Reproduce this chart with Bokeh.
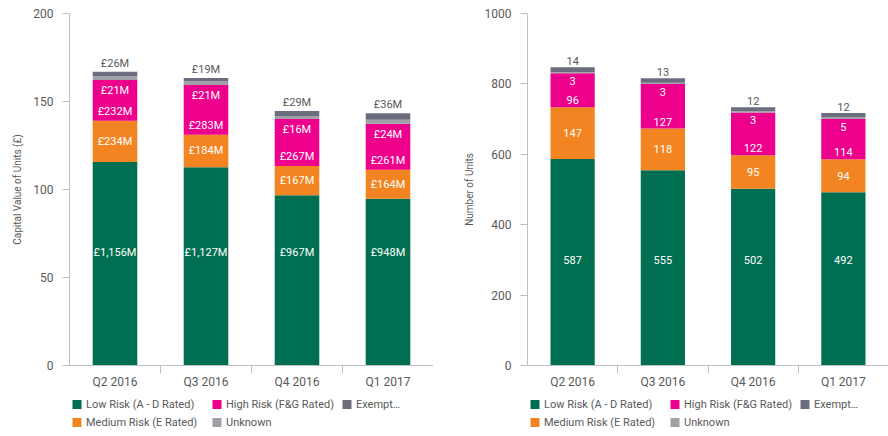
from bokeh.plotting import figure
from bokeh.models import ColumnDataSource, Range1d, FixedTicker
from bokeh.layouts import row, column
from bokeh.embed import file_html
from bokeh.resources import INLINE
from bokeh.core.properties import value

# ---------------- data ----------------
quarters = ["Q2 2016", "Q3 2016", "Q4 2016", "Q1 2017"]
series_names = ["Low Risk (A - D Rated)", "Medium Risk (E Rated)",
                "High Risk (F&G Rated)", "Unknown", "Exempt\u2026"]

# capital value, £M
cap_low = [1156, 1127, 967, 948]
cap_medium = [234, 184, 167, 164]
cap_high = [232, 283, 267, 261]
cap_unknown = [21, 21, 16, 24]
cap_exempt = [26, 19, 29, 36]

# number of units
units_low = [587, 555, 502, 492]
units_medium = [147, 118, 95, 94]
units_high = [96, 127, 122, 114]
units_unknown = [3, 3, 3, 5]
units_exempt = [14, 13, 12, 12]

cap_ticks = [0, 50, 100, 150, 200]
units_ticks = [0, 200, 400, 600, 800, 1000]

# ---------------- style ----------------
COLORS = ["#006f51", "#f28421", "#ec008c", "#a0a1a6", "#6b6c7e"]
FONT = "Roboto, sans-serif"
GREY_TXT = "#595959"
AXIS_GREY = "#bfbfbf"
KEYS = ["low", "medium", "high", "unknown", "exempt"]
CHART_H = 393
LEGEND_H = 436 - CHART_H
# legend grid (screen px inside the legend strip): series index -> (column, row)
LEGEND_SLOTS = {0: (0, 0), 2: (1, 0), 4: (2, 0), 1: (0, 1), 3: (1, 1)}
LEGEND_COL_X = [0, 140, 270]
LEGEND_ROW_Y = [11, 29]


def make_chart(series, scale, fmt, ymax, yticks, ytitle, border_left, fig_w, low_label_frac):
    n = len(quarters)
    xs = [i + 0.5 for i in range(n)]
    data = {"x": xs}
    for k, s in zip(KEYS, series):
        data[k] = [v / scale for v in s]
    src = ColumnDataSource(data)

    p = figure(width=fig_w, height=CHART_H, output_backend="svg",
               toolbar_location=None, x_range=Range1d(0, n), y_range=Range1d(0, ymax),
               min_border_left=border_left, min_border_right=0, min_border_top=13,
               min_border_bottom=28)
    p.outline_line_color = None
    p.xgrid.visible = False
    p.ygrid.visible = False

    p.vbar_stack(KEYS, x="x", width=0.49, color=COLORS, line_color=None, source=src)

    # labels
    low, med, high, unk, exe = [data[k] for k in KEYS]
    lab_low = dict(x=xs, y=[ymax * low_label_frac] * n, t=[fmt(v) for v in series[0]])
    lab_med = dict(x=xs, y=[l + m / 2 for l, m in zip(low, med)], t=[fmt(v) for v in series[1]])
    lab_high = dict(x=xs, y=[l + m for l, m in zip(low, med)], t=[fmt(v) for v in series[2]])
    lab_unk = dict(x=xs, y=[l + m + h for l, m, h in zip(low, med, high)], t=[fmt(v) for v in series[3]])
    lab_exe = dict(x=xs, y=[l + m + h + u + e for l, m, h, u, e in zip(low, med, high, unk, exe)],
                   t=[fmt(v) for v in series[4]])
    common = dict(text="t", text_font=value(FONT), text_font_size="11px", text_align="center")
    p.text(source=ColumnDataSource(lab_low), x="x", y="y", text_color="white",
           text_baseline="middle", **common)
    p.text(source=ColumnDataSource(lab_med), x="x", y="y", text_color="white",
           text_baseline="middle", **common)
    p.text(source=ColumnDataSource(lab_high), x="x", y="y", text_color="white",
           text_baseline="bottom", y_offset=-3, **common)
    p.text(source=ColumnDataSource(lab_unk), x="x", y="y", text_color="white",
           text_baseline="top", y_offset=4, **common)
    p.text(source=ColumnDataSource(lab_exe), x="x", y="y", text_color=GREY_TXT,
           text_baseline="bottom", y_offset=-2, **common)

    # x axis: labels at centres, separator ticks at boundaries
    xa = p.xaxis[0]
    xa.ticker = FixedTicker(ticks=xs, minor_ticks=[i + 1 for i in range(n)])
    xa.major_label_overrides = {x: q for x, q in zip(xs, quarters)}
    xa.major_tick_line_color = None
    xa.major_tick_out = 0
    xa.major_tick_in = 0
    xa.minor_tick_out = 8
    xa.minor_tick_in = 0
    xa.minor_tick_line_color = AXIS_GREY
    xa.axis_line_color = AXIS_GREY
    xa.major_label_standoff = 1
    xa.major_label_text_font = FONT
    xa.major_label_text_font_size = "12px"
    xa.major_label_text_color = GREY_TXT

    ya = p.yaxis[0]
    ya.ticker = FixedTicker(ticks=yticks)
    ya.minor_tick_line_color = None
    ya.major_tick_out = 7
    ya.major_tick_in = 0
    ya.major_tick_line_color = AXIS_GREY
    ya.axis_line_color = AXIS_GREY
    ya.major_label_standoff = 9
    ya.major_label_text_font = FONT
    ya.major_label_text_font_size = "12px"
    ya.major_label_text_color = GREY_TXT
    ya.axis_label = ytitle
    ya.axis_label_text_font = FONT
    ya.axis_label_text_font_size = "10px"
    ya.axis_label_text_font_style = "normal"
    ya.axis_label_text_color = GREY_TXT
    ya.axis_label_standoff = 7

    # legend strip below the chart; its frame is aligned with the chart frame,
    # so its x range is set to the frame width in pixels
    frame_w = fig_w - border_left
    lg = figure(width=fig_w, height=LEGEND_H, output_backend="svg", toolbar_location=None,
                x_range=Range1d(0, frame_w), y_range=Range1d(LEGEND_H, 0),
                x_axis_type=None, y_axis_type=None,
                min_border_left=0, min_border_right=0, min_border_top=0, min_border_bottom=0)
    lg.outline_line_color = None
    lg.xgrid.visible = False
    lg.ygrid.visible = False
    order = sorted(LEGEND_SLOTS)
    sq_x = [3 + LEGEND_COL_X[LEGEND_SLOTS[i][0]] + 4.5 for i in order]
    sq_y = [LEGEND_ROW_Y[LEGEND_SLOTS[i][1]] for i in order]
    leg_src = ColumnDataSource(dict(x=sq_x, y=sq_y, tx=[x + 9 for x in sq_x],
                                    c=[COLORS[i] for i in order],
                                    t=[series_names[i] for i in order]))
    lg.rect(x="x", y="y", width=9, height=9, color="c", line_color=None, source=leg_src)
    lg.text(x="tx", y="y", text="t", text_font=value(FONT), text_font_size="11px",
            text_color=GREY_TXT, text_baseline="middle", text_align="left", source=leg_src)
    return column(p, lg, spacing=0)


def fmt_cap(v):
    return "\u00a3{:,}M".format(v)


def fmt_units(v):
    return "{:d}".format(v)


left = make_chart([cap_low, cap_medium, cap_high, cap_unknown, cap_exempt], 10, fmt_cap,
                  200, cap_ticks, "Capital Value of Units (\u00a3)", 69, 433, 0.32)
right = make_chart([units_low, units_medium, units_high, units_unknown, units_exempt], 1, fmt_units,
                   1000, units_ticks, "Number of Units", 94, 455, 0.30)

p = row(left, right, spacing=0)
open("out.html", "w").write(file_html(p, INLINE))
